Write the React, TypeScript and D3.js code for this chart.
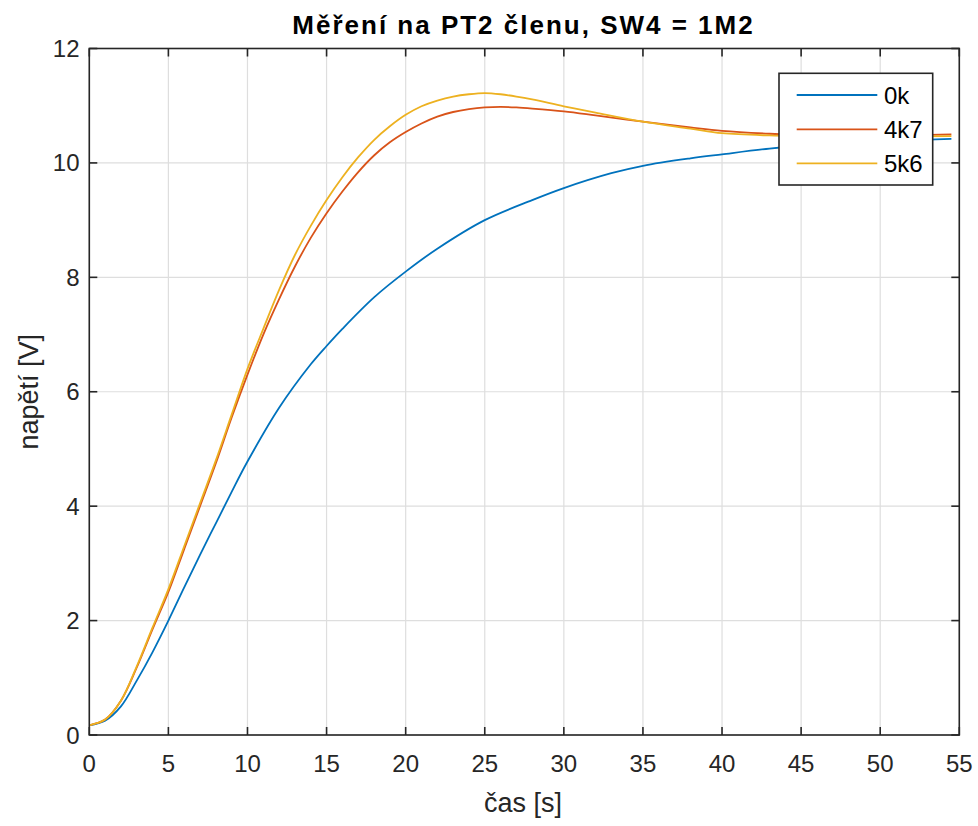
import React from "react";
import * as d3 from "d3";

const TITLE = "Měření na PT2 členu, SW4 = 1M2";
const X_LABEL = "čas [s]";
const Y_LABEL = "napětí [V]";
const X_TICKS = [0, 5, 10, 15, 20, 25, 30, 35, 40, 45, 50, 55];
const Y_TICKS = [0, 2, 4, 6, 8, 10, 12];

const T_0K = [0, 1, 2, 3, 4, 5, 6, 7, 8, 9, 10, 12, 14, 15, 16, 18, 20, 22, 25, 28, 30, 33, 35, 38, 40, 43, 45, 48, 50, 54.5];
const V_0K = [0.17, 0.25, 0.5, 0.95, 1.45, 2.0, 2.58, 3.15, 3.7, 4.25, 4.78, 5.72, 6.48, 6.8, 7.1, 7.65, 8.1, 8.5, 9.0, 9.35, 9.56, 9.82, 9.95, 10.08, 10.15, 10.25, 10.3, 10.35, 10.38, 10.42];

const T_FAST = [0, 1, 2, 3, 4, 5, 6, 7, 8, 9, 10, 11, 12, 13, 14, 15, 16, 17, 18, 19, 20, 21, 22, 23, 24, 25, 26, 27, 28, 30, 32, 35, 38, 40, 43, 45, 50, 54.5];
const V_4K7 = [0.17, 0.27, 0.6, 1.18, 1.85, 2.5, 3.25, 4.0, 4.75, 5.55, 6.3, 7.0, 7.62, 8.19, 8.69, 9.12, 9.5, 9.84, 10.13, 10.36, 10.54, 10.69, 10.81, 10.89, 10.94, 10.97, 10.98, 10.97, 10.95, 10.9, 10.83, 10.72, 10.62, 10.56, 10.51, 10.49, 10.48, 10.5];
const V_5K6 = [0.17, 0.27, 0.6, 1.2, 1.88, 2.55, 3.3, 4.05, 4.8, 5.6, 6.4, 7.1, 7.78, 8.39, 8.9, 9.35, 9.75, 10.1, 10.4, 10.64, 10.84, 10.99, 11.09, 11.16, 11.2, 11.22, 11.2, 11.16, 11.11, 10.99, 10.88, 10.72, 10.6, 10.52, 10.48, 10.47, 10.46, 10.47];

const SERIES_NAMES = ["0k", "4k7", "5k6"];
const SERIES_COLORS = ["#0072BD", "#D95319", "#EDB120"];

const W = 978;
const H = 826;
const FONT = "Liberation Sans, Arial, Helvetica, sans-serif";
const AX = "#262626";

export default function App() {
  const left = 89.3;
  const right = 959.3;
  const top = 48.5;
  const bottom = 735;
  const x = d3.scaleLinear().domain([0, 55]).range([left, right]);
  const y = d3.scaleLinear().domain([0, 12]).range([bottom, top]);

  const series = [
    T_0K.map((t, i) => [t, V_0K[i]] as [number, number]),
    T_FAST.map((t, i) => [t, V_4K7[i]] as [number, number]),
    T_FAST.map((t, i) => [t, V_5K6[i]] as [number, number]),
  ];
  const line = d3
    .line<[number, number]>()
    .x((d) => x(d[0]))
    .y((d) => y(d[1]))
    .curve(d3.curveCatmullRom.alpha(0.5));

  const tickLen = 8;
  const legX = 779;
  const legY = 73.3;
  const legW = 153.7;
  const legH = 111.7;
  const rowY = [95, 129.3, 163.3];

  return (
    <svg
      width={W}
      height={H}
      style={{ position: "absolute", left: 0, top: 0, background: "#fff" }}
      fontFamily={FONT}
    >
      <rect x={0} y={0} width={W} height={H} fill="#fff" />
      {X_TICKS.map((t) => (
        <line key={"gx" + t} x1={x(t)} x2={x(t)} y1={top} y2={bottom} stroke="#dedede" strokeWidth={1.2} />
      ))}
      {Y_TICKS.map((t) => (
        <line key={"gy" + t} x1={left} x2={right} y1={y(t)} y2={y(t)} stroke="#dedede" strokeWidth={1.2} />
      ))}
      {series.map((s, i) => (
        <path key={"s" + i} d={line(s) || ""} fill="none" stroke={SERIES_COLORS[i]} strokeWidth={1.8} />
      ))}
      <rect x={left} y={top} width={right - left} height={bottom - top} fill="none" stroke={AX} strokeWidth={1.6} />
      {X_TICKS.map((t) => (
        <g key={"tx" + t}>
          <line x1={x(t)} x2={x(t)} y1={bottom} y2={bottom - tickLen} stroke={AX} strokeWidth={1.6} />
          <line x1={x(t)} x2={x(t)} y1={top} y2={top + tickLen} stroke={AX} strokeWidth={1.6} />
          <text x={x(t)} y={772} textAnchor="middle" fontSize={24} fill={AX}>
            {t}
          </text>
        </g>
      ))}
      {Y_TICKS.map((t) => (
        <g key={"ty" + t}>
          <line x1={left} x2={left + tickLen} y1={y(t)} y2={y(t)} stroke={AX} strokeWidth={1.6} />
          <line x1={right} x2={right - tickLen} y1={y(t)} y2={y(t)} stroke={AX} strokeWidth={1.6} />
          <text x={79.5} y={y(t) + 8.5} textAnchor="end" fontSize={24} fill={AX}>
            {t}
          </text>
        </g>
      ))}
      <text x={523} y={812} textAnchor="middle" fontSize={27} fill={AX}>
        {X_LABEL}
      </text>
      <text
        transform={`translate(38,${(top + bottom) / 2}) rotate(-90)`}
        textAnchor="middle"
        fontSize={27}
        fill={AX}
      >
        {Y_LABEL}
      </text>
      <text x={523.5} y={34} textAnchor="middle" fontSize={26} fontWeight="bold" fill="#000" letterSpacing={2.0}>
        {TITLE}
      </text>
      <rect x={legX} y={legY} width={legW} height={legH} fill="#fff" stroke={AX} strokeWidth={1.6} />
      {SERIES_NAMES.map((n, i) => (
        <g key={"l" + n}>
          <line x1={796.7} x2={877.3} y1={rowY[i]} y2={rowY[i]} stroke={SERIES_COLORS[i]} strokeWidth={1.8} />
          <text x={884} y={rowY[i] + 8.5} fontSize={24} fill="#000">
            {n}
          </text>
        </g>
      ))}
    </svg>
  );
}
